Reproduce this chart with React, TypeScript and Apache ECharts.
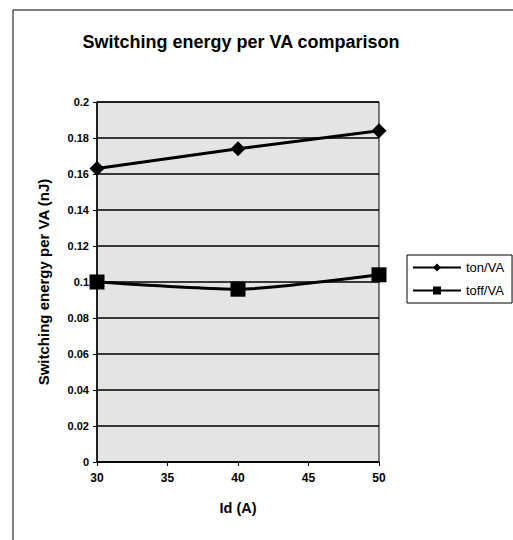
import React, { useEffect, useRef } from "react";
import * as echarts from "echarts";

const xValues = [30, 40, 50];
const tonVA = [0.163, 0.174, 0.184];
const toffVA = [0.1, 0.096, 0.104];
const seriesNames = ["ton/VA", "toff/VA"];
const titleText = "Switching energy per VA comparison";
const xAxisName = "Id (A)";
const yAxisName = "Switching energy per VA (nJ)";

const FONT = "'Liberation Sans', Arial, sans-serif";

export default function App() {
  const ref = useRef<HTMLDivElement>(null);
  useEffect(() => {
    if (!ref.current) return;
    const chart = echarts.init(ref.current, undefined, { renderer: "svg" });
    chart.setOption({
      animation: false,
      backgroundColor: "#ffffff",
      textStyle: { fontFamily: FONT },
      title: {
        text: titleText,
        left: 236,
        top: 28,
        textAlign: "center",
        textStyle: { fontFamily: FONT, fontSize: 18, fontWeight: "bold", color: "#000" },
      },
      graphic: [
        {
          type: "rect",
          shape: { x: 13, y: 10, width: 700, height: 700 },
          style: { fill: "none", stroke: "#000", lineWidth: 1 },
          silent: true,
        },
      ],
      legend: {
        orient: "vertical",
        left: 407,
        top: 255,
        padding: [6, 8, 6, 5],
        itemWidth: 48,
        itemHeight: 10,
        itemGap: 10,
        borderColor: "#000",
        borderWidth: 1,
        backgroundColor: "#fff",
        data: seriesNames,
        textStyle: { fontFamily: FONT, fontSize: 13, color: "#000" },
      },
      grid: {
        left: 97,
        right: 134,
        top: 102,
        bottom: 78,
        show: true,
        backgroundColor: "#e4e4e4",
        borderColor: "#000",
        borderWidth: 1,
      },
      xAxis: {
        type: "value",
        min: 30,
        max: 50,
        interval: 5,
        name: xAxisName,
        nameLocation: "middle",
        nameGap: 38,
        nameTextStyle: { fontFamily: FONT, fontSize: 14.5, fontWeight: "bold", color: "#000" },
        axisLine: { show: true, lineStyle: { color: "#000", width: 1.5 } },
        axisTick: { show: true, length: 4, lineStyle: { color: "#000" } },
        axisLabel: { fontFamily: FONT, fontSize: 12, fontWeight: "bold", color: "#000", margin: 10 },
        splitLine: { show: false },
      },
      yAxis: {
        type: "value",
        min: 0,
        max: 0.2,
        interval: 0.02,
        name: yAxisName,
        nameLocation: "middle",
        nameGap: 46,
        nameTextStyle: { fontFamily: FONT, fontSize: 15, fontWeight: "bold", color: "#000" },
        axisLine: { show: true, lineStyle: { color: "#000", width: 1.5 } },
        axisTick: { show: true, length: 4, lineStyle: { color: "#000" } },
        axisLabel: {
          fontFamily: FONT,
          fontSize: 11,
          fontWeight: "bold",
          color: "#000",
          margin: 8,
          formatter: (v: number) => String(+v.toFixed(2)),
        },
        splitLine: { show: true, lineStyle: { color: "#000", width: 1.5 } },
      },
      series: [
        {
          name: seriesNames[0],
          type: "line",
          data: xValues.map((x, i) => [x, tonVA[i]]),
          symbol: "diamond",
          symbolSize: 15,
          lineStyle: { color: "#000", width: 3 },
          itemStyle: { color: "#000" },
        },
        {
          name: seriesNames[1],
          type: "line",
          smooth: 0.2,
          data: xValues.map((x, i) => [x, toffVA[i]]),
          symbol: "rect",
          symbolSize: 15,
          lineStyle: { color: "#000", width: 3 },
          itemStyle: { color: "#000" },
        },
      ],
    });
    return () => chart.dispose();
  }, []);
  return (
    <div
      ref={ref}
      style={{ position: "fixed", left: 0, top: 0, width: 513, height: 540 }}
    />
  );
}
